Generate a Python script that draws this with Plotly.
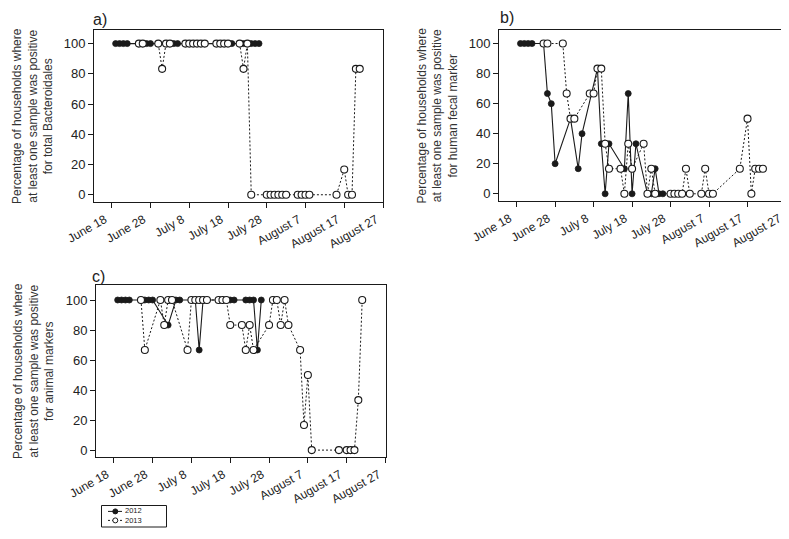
import plotly.graph_objects as go

# ---------------- data ----------------
dates_2012 = ["06-19", "06-20", "06-21", "06-22", "06-25", "06-26", "06-27", "06-28",
              "07-02", "07-04", "07-05", "07-09", "07-10", "07-11", "07-12",
              "07-16", "07-17", "07-18", "07-19", "07-22", "07-23", "07-24", "07-25", "07-26"]
dates_2013 = ["06-25", "06-26", "06-30", "07-01", "07-02", "07-03",
              "07-07", "07-08", "07-09", "07-10", "07-11", "07-12",
              "07-15", "07-16", "07-17", "07-18",
              "07-21", "07-22", "07-23", "07-24",
              "07-28", "07-29", "07-30", "07-31", "08-01", "08-02",
              "08-05", "08-06", "08-07", "08-08",
              "08-15", "08-17", "08-18", "08-19", "08-20", "08-21"]

# a) total Bacteroidales
a_2012 = [100, 100, 100, 100, 100, 100, 100, 100, 100, 100, 100, 100,
          100, 100, 100, 100, 100, 100, 100, 100, 100, 100, 100, 100]
a_2013 = [100, 100, 100, 83.3, 100, 100,
          100, 100, 100, 100, 100, 100,
          100, 100, 100, 100,
          100, 83.3, 100, 0,
          0, 0, 0, 0, 0, 0,
          0, 0, 0, 0,
          0, 16.7, 0, 0, 83.3, 83.3]
# b) human fecal marker
b_2012 = [100, 100, 100, 100, 100, 66.7, 60, 20,
          50, 16.7, 40, 83.3, 33.3, 0, 33.3,
          16.7, 66.7, 0, 33.3, 0, 0, 16.7, 0, 0]
b_2013 = [100, 100, 100, 66.7, 50, 50,
          66.7, 66.7, 83.3, 83.3, 33.3, 16.7,
          16.7, 0, 33.3, 16.7,
          33.3, 0, 16.7, 0,
          0, 0, 0, 0, 16.7, 0,
          0, 16.7, 0, 0,
          16.7, 50, 0, 16.7, 16.7, 16.7]
# c) animal markers
c_2012 = [100, 100, 100, 100, 100, 100, 100, 100,
          83.3, 100, 100, 100, 66.7, 100, 100,
          100, 100, 100, 100, 100, 100, 100, 66.7, 100]
c_2013 = [100, 66.7, 100, 83.3, 100, 100,
          66.7, 100, 100, 100, 100, 100,
          100, 100, 100, 83.3,
          83.3, 66.7, 83.3, 66.7,
          83.3, 100, 100, 83.3, 100, 83.3,
          66.7, 16.7, 50, 0,
          0, 0, 0, 0, 33.3, 100]

tick_dates = ["06-18", "06-28", "07-08", "07-18", "07-28", "08-07", "08-17", "08-27"]
tick_labels = ["June 18", "June 28", "July 8", "July 18", "July 28",
               "August 7", "August 17", "August 27"]

y_titles = ["Percentage of households where<br>at least one sample was positive<br>for total Bacteroidales",
            "Percentage of households where<br>at least one sample was positive<br>for human fecal marker",
            "Percentage of households where<br>at least one sample was positive<br>for animal markers"]
panel_labels = ["a)", "b)", "c)"]
series_names = ["2012", "2013"]


def d(s):
    return "2013-" + s


INK = "#1a1a1a"
FONT = "Liberation Sans, Arial, sans-serif"
DOT = "2px,2px"

W, H = 789, 539


def px(x):
    return x / W


def py(y):
    return 1 - y / H


fig = go.Figure()

panels = [(a_2012, a_2013, "x", "y"), (b_2012, b_2013, "x2", "y2"), (c_2012, c_2013, "x3", "y3")]
for i, (v12, v13, xa, ya) in enumerate(panels):
    fig.add_trace(go.Scatter(
        x=[d(s) for s in dates_2012], y=v12, xaxis=xa, yaxis=ya, name=series_names[0],
        mode="lines+markers", showlegend=False,
        line=dict(color=INK, width=1.1),
        marker=dict(symbol="circle", size=6, color=INK, line=dict(color=INK, width=0.8))))
    fig.add_trace(go.Scatter(
        x=[d(s) for s in dates_2013], y=v13, xaxis=xa, yaxis=ya, name=series_names[1],
        mode="lines+markers", showlegend=False,
        line=dict(color=INK, width=1, dash=DOT),
        marker=dict(symbol="circle", size=7, color="white", line=dict(color=INK, width=1.1))))

# pixel boxes in the window (left, right, top, bottom)
boxes = [(86, 375, 22, 194), (491, 778, 22, 193), (88, 377.5, 277, 449)]

xrange_ = ["2013-06-13 10:00", "2013-08-27"]
common_x = dict(type="date", range=xrange_, tickvals=[d(s) for s in tick_dates], ticktext=tick_labels,
                tickangle=-30, ticklabelshift=-7, showline=True, mirror=True, linecolor=INK,
                linewidth=1, ticks="outside", ticklen=5, tickcolor=INK, showgrid=False,
                zeroline=False, automargin=False, fixedrange=True,
                tickfont=dict(family=FONT, size=12, color="#222"))
common_y = dict(tickvals=[0, 20, 40, 60, 80, 100], showline=True, mirror=True, linecolor=INK,
                linewidth=1, ticks="outside", ticklen=5, tickcolor=INK, showgrid=False,
                zeroline=False, automargin=False, fixedrange=True,
                tickfont=dict(family=FONT, size=13, color="#222"))

layout_axes = {}
annotations = []
shapes = []
for i, (l, r, t, b) in enumerate(boxes):
    sfx = "" if i == 0 else str(i + 1)
    yr = [-4.8, 109] if i < 2 else [-4.6, 110]
    layout_axes["xaxis" + sfx] = dict(common_x, domain=[px(l), px(r)], anchor="y" + sfx)
    layout_axes["yaxis" + sfx] = dict(common_y, domain=[py(b), py(t)], range=yr, anchor="x" + sfx)
    title_x = [25, 429, 25][i]
    annotations.append(dict(text=y_titles[i], textangle=-90, xref="paper", yref="paper",
                            x=px(title_x), y=py((t + b) / 2), showarrow=False,
                            xanchor="center", yanchor="middle",
                            font=dict(family=FONT, size=12, color="#333")))
    lab_pos = [(83, 11), (490, 10), (82, 268)][i]
    annotations.append(dict(text=panel_labels[i], xref="paper", yref="paper",
                            x=px(lab_pos[0]), y=py(lab_pos[1]), showarrow=False,
                            xanchor="left", yanchor="middle",
                            font=dict(family=FONT, size=16, color="#222")))

# ---- compact legend box (bottom left) ----
shapes.append(dict(type="rect", xref="paper", yref="paper", x0=px(93.5), x1=px(158.5),
                   y0=py(519), y1=py(497.5), line=dict(color=INK, width=1), fillcolor="white"))
row_y = [503.4, 512.4]
for k, yy in enumerate(row_y):
    shapes.append(dict(type="line", xref="paper", yref="paper", x0=px(100), x1=px(114),
                       y0=py(yy), y1=py(yy),
                       line=dict(color=INK, width=1, dash="solid" if k == 0 else DOT)))
    shapes.append(dict(type="circle", xref="paper", yref="paper", x0=px(104.8), x1=px(109.8),
                       y0=py(yy + 2.5), y1=py(yy - 2.5),
                       line=dict(color=INK, width=1), fillcolor=INK if k == 0 else "white"))
annotations.append(dict(text="<br>".join(series_names), xref="paper", yref="paper",
                        x=px(116), y=py(sum(row_y) / 2), showarrow=False, align="left",
                        xanchor="left", yanchor="middle", borderpad=0,
                        font=dict(family=FONT, size=7.5, color="#222")))

fig.update_layout(
    width=W, height=H, margin=dict(l=0, r=0, t=0, b=0, autoexpand=False),
    plot_bgcolor="white", paper_bgcolor="white",
    showlegend=False,
    annotations=annotations, shapes=shapes,
    **layout_axes)

fig.write_html("out.html")
